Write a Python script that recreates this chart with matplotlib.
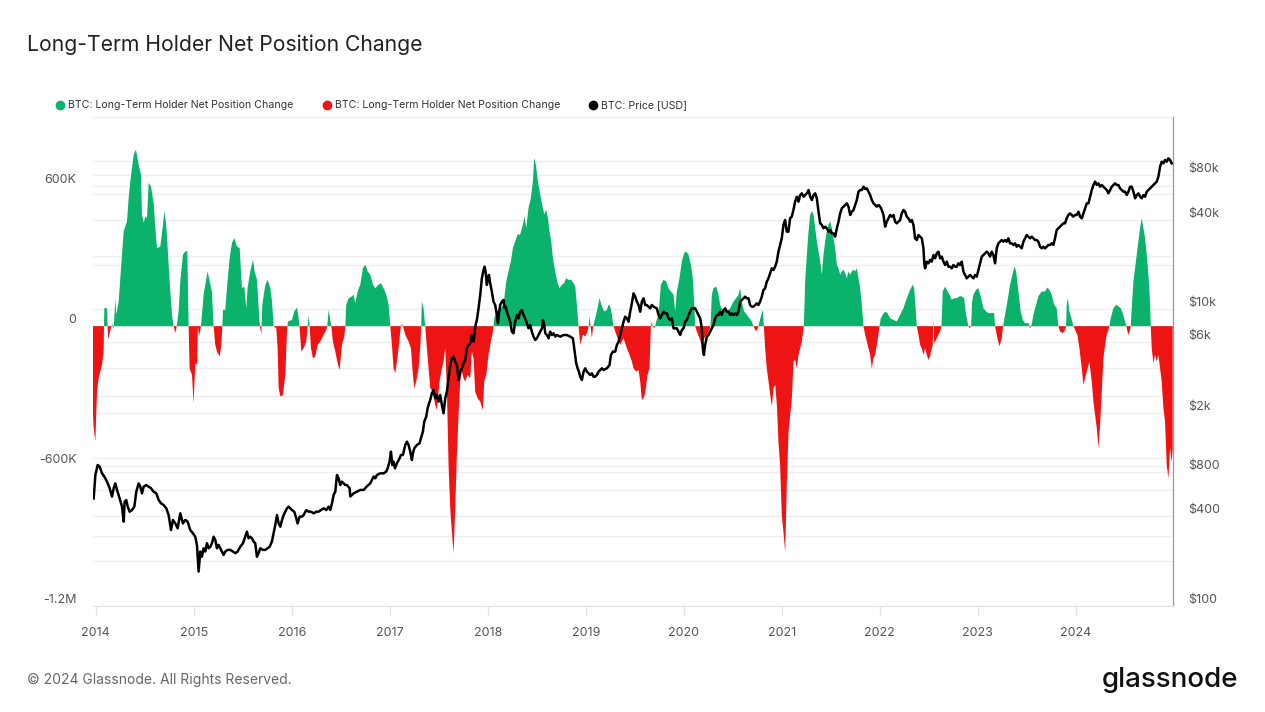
import matplotlib
matplotlib.use("Agg")
import matplotlib.pyplot as plt
from matplotlib.lines import Line2D
from matplotlib.ticker import FixedLocator, NullFormatter, NullLocator
import numpy as np

plt.rcParams['font.family'] = ['Inter', 'DejaVu Sans']

# LTH net position change (decimal year, thousands of BTC)
lth_year = [
    2013.971, 2013.978, 2013.995, 2014.012, 2014.029, 2014.046, 2014.066, 2014.080, 2014.083, 2014.087,
    2014.114, 2014.121, 2014.124, 2014.134, 2014.148, 2014.168, 2014.182, 2014.199, 2014.209, 2014.233,
    2014.250, 2014.267, 2014.284, 2014.318, 2014.335, 2014.352, 2014.369, 2014.386, 2014.410, 2014.437,
    2014.461, 2014.471, 2014.488, 2014.505, 2014.522, 2014.539, 2014.563, 2014.590, 2014.607, 2014.624,
    2014.658, 2014.685, 2014.699, 2014.719, 2014.733, 2014.753, 2014.777, 2014.794, 2014.811, 2014.828,
    2014.845, 2014.862, 2014.889, 2014.913, 2014.934, 2014.947, 2014.957, 2014.981, 2014.998, 2015.015,
    2015.032, 2015.042, 2015.053, 2015.070, 2015.083, 2015.100, 2015.117, 2015.141, 2015.162, 2015.185,
    2015.202, 2015.219, 2015.236, 2015.264, 2015.281, 2015.291, 2015.298, 2015.321, 2015.338, 2015.366,
    2015.389, 2015.413, 2015.440, 2015.468, 2015.491, 2015.515, 2015.536, 2015.549, 2015.576, 2015.604,
    2015.621, 2015.645, 2015.662, 2015.675, 2015.689, 2015.699, 2015.730, 2015.753, 2015.781, 2015.798,
    2015.815, 2015.842, 2015.855, 2015.866, 2015.883, 2015.910, 2015.934, 2015.951, 2015.961, 2016.002,
    2016.025, 2016.053, 2016.070, 2016.080, 2016.097, 2016.121, 2016.148, 2016.162, 2016.172, 2016.182,
    2016.196, 2016.216, 2016.240, 2016.264, 2016.291, 2016.325, 2016.352, 2016.362, 2016.376, 2016.393,
    2016.403, 2016.420, 2016.444, 2016.468, 2016.488, 2016.512, 2016.536, 2016.546, 2016.556, 2016.580,
    2016.614, 2016.631, 2016.648, 2016.672, 2016.699, 2016.726, 2016.750, 2016.774, 2016.801, 2016.828,
    2016.852, 2016.886, 2016.910, 2016.937, 2016.964, 2016.988, 2017.005, 2017.022, 2017.039, 2017.056,
    2017.073, 2017.090, 2017.107, 2017.114, 2017.124, 2017.134, 2017.158, 2017.192, 2017.216, 2017.236,
    2017.250, 2017.270, 2017.294, 2017.311, 2017.321, 2017.328, 2017.345, 2017.362, 2017.379, 2017.396,
    2017.413, 2017.440, 2017.464, 2017.481, 2017.508, 2017.532, 2017.549, 2017.566, 2017.583, 2017.600,
    2017.617, 2017.634, 2017.651, 2017.668, 2017.685, 2017.702, 2017.719, 2017.736, 2017.753, 2017.770,
    2017.794, 2017.821, 2017.838, 2017.855, 2017.872, 2017.896, 2017.923, 2017.950, 2017.964, 2017.985,
    2018.008, 2018.032, 2018.053, 2018.059, 2018.066, 2018.093, 2018.127, 2018.161, 2018.189, 2018.212,
    2018.236, 2018.257, 2018.280, 2018.304, 2018.331, 2018.359, 2018.376, 2018.393, 2018.416, 2018.440,
    2018.461, 2018.474, 2018.491, 2018.512, 2018.536, 2018.563, 2018.577, 2018.597, 2018.614, 2018.631,
    2018.648, 2018.665, 2018.689, 2018.712, 2018.733, 2018.757, 2018.781, 2018.801, 2018.825, 2018.849,
    2018.876, 2018.893, 2018.910, 2018.927, 2018.944, 2018.971, 2018.995, 2019.019, 2019.029, 2019.039,
    2019.049, 2019.063, 2019.076, 2019.097, 2019.121, 2019.141, 2019.165, 2019.189, 2019.216, 2019.233,
    2019.250, 2019.267, 2019.284, 2019.301, 2019.325, 2019.352, 2019.386, 2019.420, 2019.447, 2019.471,
    2019.488, 2019.515, 2019.539, 2019.556, 2019.573, 2019.590, 2019.607, 2019.631, 2019.651, 2019.665,
    2019.675, 2019.685, 2019.699, 2019.709, 2019.719, 2019.743, 2019.767, 2019.794, 2019.821, 2019.845,
    2019.869, 2019.896, 2019.913, 2019.930, 2019.957, 2019.981, 2020.005, 2020.025, 2020.049, 2020.073,
    2020.093, 2020.107, 2020.117, 2020.134, 2020.161, 2020.185, 2020.209, 2020.236, 2020.263, 2020.274,
    2020.287, 2020.304, 2020.331, 2020.355, 2020.372, 2020.400, 2020.423, 2020.447, 2020.474, 2020.508,
    2020.536, 2020.559, 2020.576, 2020.593, 2020.617, 2020.644, 2020.672, 2020.695, 2020.712, 2020.729,
    2020.746, 2020.763, 2020.774, 2020.787, 2020.808, 2020.818, 2020.831, 2020.848, 2020.866, 2020.883,
    2020.900, 2020.917, 2020.934, 2020.951, 2020.967, 2020.984, 2021.001, 2021.018, 2021.036, 2021.053,
    2021.070, 2021.087, 2021.104, 2021.121, 2021.138, 2021.155, 2021.172, 2021.189, 2021.206, 2021.223,
    2021.226, 2021.240, 2021.257, 2021.274, 2021.291, 2021.308, 2021.325, 2021.342, 2021.359, 2021.376,
    2021.393, 2021.410, 2021.427, 2021.444, 2021.461, 2021.478, 2021.495, 2021.512, 2021.529, 2021.546,
    2021.563, 2021.580, 2021.597, 2021.614, 2021.631, 2021.648, 2021.665, 2021.682, 2021.699, 2021.716,
    2021.733, 2021.750, 2021.767, 2021.784, 2021.801, 2021.818, 2021.835, 2021.852, 2021.869, 2021.886,
    2021.903, 2021.920, 2021.937, 2021.954, 2021.971, 2021.988, 2021.998, 2022.012, 2022.032, 2022.056,
    2022.080, 2022.107, 2022.141, 2022.175, 2022.209, 2022.243, 2022.277, 2022.311, 2022.338, 2022.352,
    2022.372, 2022.379, 2022.396, 2022.413, 2022.430, 2022.447, 2022.464, 2022.481, 2022.498, 2022.515,
    2022.532, 2022.542, 2022.549, 2022.556, 2022.576, 2022.600, 2022.617, 2022.631, 2022.644, 2022.668,
    2022.685, 2022.712, 2022.736, 2022.760, 2022.787, 2022.814, 2022.838, 2022.862, 2022.882, 2022.903,
    2022.916, 2022.933, 2022.944, 2022.957, 2022.984, 2023.008, 2023.032, 2023.059, 2023.087, 2023.110,
    2023.144, 2023.168, 2023.178, 2023.195, 2023.222, 2023.246, 2023.260, 2023.280, 2023.304, 2023.331,
    2023.355, 2023.376, 2023.393, 2023.416, 2023.440, 2023.461, 2023.484, 2023.518, 2023.535, 2023.552,
    2023.569, 2023.597, 2023.620, 2023.654, 2023.688, 2023.712, 2023.733, 2023.756, 2023.780, 2023.807,
    2023.824, 2023.841, 2023.869, 2023.893, 2023.903, 2023.909, 2023.920, 2023.937, 2023.961, 2023.978,
    2023.995, 2024.018, 2024.039, 2024.063, 2024.080, 2024.097, 2024.114, 2024.141, 2024.165, 2024.182,
    2024.199, 2024.216, 2024.233, 2024.250, 2024.267, 2024.284, 2024.301, 2024.318, 2024.335, 2024.345,
    2024.358, 2024.386, 2024.413, 2024.437, 2024.460, 2024.481, 2024.505, 2024.518, 2024.529, 2024.542,
    2024.556, 2024.563, 2024.573, 2024.590, 2024.607, 2024.624, 2024.641, 2024.658, 2024.675, 2024.692,
    2024.709, 2024.726, 2024.743, 2024.760, 2024.767, 2024.777, 2024.794, 2024.811, 2024.828, 2024.845,
    2024.862, 2024.879, 2024.896, 2024.913, 2024.930, 2024.947, 2024.964, 2024.981, 2024.991,
]
lth_k = [
    -381, -438, -493, -281, -223, -195, -159, -95, 0, 77,
    77, 0, -54, -44, -16, 9, -11, 116, 49, 106,
    206, 307, 407, 450, 550, 622, 679, 736, 758, 693,
    650, 479, 444, 471, 464, 615, 600, 529, 421, 335,
    342, 436, 493, 436, 335, 192, 49, 0, -30, 6,
    63, 192, 307, 321, 321, 0, -181, -209, -331, -159,
    -166, 0, -44, -9, 49, 135, 178, 235, 192, 149,
    0, -80, -109, -130, -80, 0, 70, 70, 163, 292,
    357, 378, 342, 335, 163, 170, 77, 163, 235, 285,
    235, 199, 77, 0, -37, 92, 178, 199, 163, 106,
    0, -9, -95, -266, -302, -295, -209, -23, 20, 27,
    63, 80, 34, -9, -109, -95, -66, 0, 46, 0,
    -95, -138, -130, -80, -66, -37, -16, 0, 70, 27,
    0, -66, -109, -159, -188, -80, -44, 0, 92, 120,
    128, 135, 99, 149, 178, 249, 264, 235, 221, 178,
    163, 178, 185, 163, 135, 92, 0, -80, -181, -202,
    -152, -95, -23, 0, 9, 0, -37, -66, -95, -209,
    -266, -238, -181, -95, 0, 106, 77, 0, -95, -181,
    -266, -281, -338, -360, -238, -181, -152, -95, -266, -596,
    -782, -883, -976, -782, -553, -381, -238, -195, -224, -238,
    -209, -224, -109, -138, -281, -309, -324, -360, -238, -209,
    -123, -66, -23, 0, 34, 63, 77, 92, 192, 235,
    278, 335, 364, 393, 393, 436, 471, 421, 507, 550,
    622, 722, 693, 622, 564, 507, 479, 500, 464, 407,
    364, 292, 235, 185, 163, 178, 185, 206, 199, 199,
    185, 170, 92, 0, -80, -37, -44, -23, 0, 42,
    0, -52, 0, 34, 77, 120, 85, 63, 70, 92,
    85, 49, 0, -23, -52, -80, -52, -95, -123, -152,
    -181, -195, -188, -238, -317, -309, -288, -209, -181, 0,
    20, 0, -9, 0, 20, 49, 178, 199, 192, 163,
    149, 135, 63, 149, 206, 278, 314, 321, 307, 264,
    206, 106, 0, -23, -52, -80, -52, -37, -16, 0,
    135, 163, 170, 135, 92, 63, 77, 63, 77, 106,
    120, 135, 163, 106, 63, 49, 34, 20, 0, -16,
    -20, 0, 20, 42, 70, 0, -95, -181, -238, -295,
    -345, -266, -252, -338, -496, -596, -811, -883, -969, -668,
    -453, -381, -309, -152, -145, -181, -123, -95, -66, -9,
    0, 192, 307, 407, 479, 493, 479, 421, 364, 321,
    278, 221, 307, 364, 407, 436, 450, 421, 378, 335,
    264, 249, 221, 235, 242, 228, 206, 235, 221, 235,
    242, 235, 249, 206, 163, 92, 0, -37, -66, -95,
    -123, -181, -138, -123, -80, -37, 0, 34, 49, 63,
    56, 34, 27, 20, 49, 77, 120, 156, 178, 163,
    49, 0, -37, -80, -95, -123, -95, -123, -145, -130,
    -95, -80, 32, -73, -59, -37, -23, 0, 149, 170,
    156, 135, 113, 120, 120, 128, 128, 120, 49, 6,
    -9, 0, 106, 135, 156, 163, 128, 77, 63, 56,
    56, 57, 0, -37, -87, -52, 0, 49, 106, 178,
    221, 256, 235, 149, 63, 27, 13, 13, -9, 6,
    49, 92, 128, 149, 149, 166, 156, 135, 92, 77,
    0, -23, -30, -16, 0, 92, 120, 63, 27, 0,
    -16, -37, -95, -181, -252, -224, -195, -152, -238, -324,
    -381, -438, -524, -424, -281, -138, -80, -37, -16, 0,
    34, 77, 92, 85, 77, 56, 20, 0, -23, -37,
    -16, 0, 77, 192, 249, 307, 364, 421, 464, 421,
    378, 307, 221, 106, 0, -95, -159, -123, -152, -123,
    -181, -238, -352, -410, -596, -653, -524, -582, -524,
]

# BTC price (decimal year, USD)
price_year = [
    2013.978, 2013.995, 2014.019, 2014.039, 2014.063, 2014.087, 2014.114, 2014.141, 2014.165, 2014.182,
    2014.199, 2014.216, 2014.243, 2014.267, 2014.284, 2014.294, 2014.311, 2014.325, 2014.345, 2014.369,
    2014.393, 2014.413, 2014.437, 2014.454, 2014.471, 2014.488, 2014.515, 2014.539, 2014.563, 2014.590,
    2014.617, 2014.641, 2014.665, 2014.692, 2014.719, 2014.743, 2014.767, 2014.787, 2014.811, 2014.835,
    2014.862, 2014.889, 2014.913, 2014.937, 2014.964, 2014.991, 2015.015, 2015.032, 2015.049, 2015.066,
    2015.083, 2015.100, 2015.117, 2015.134, 2015.151, 2015.168, 2015.185, 2015.202, 2015.219, 2015.236,
    2015.253, 2015.270, 2015.287, 2015.304, 2015.321, 2015.345, 2015.372, 2015.400, 2015.423, 2015.447,
    2015.474, 2015.502, 2015.525, 2015.542, 2015.559, 2015.576, 2015.593, 2015.610, 2015.627, 2015.644,
    2015.661, 2015.678, 2015.706, 2015.729, 2015.753, 2015.774, 2015.797, 2015.814, 2015.831, 2015.849,
    2015.866, 2015.883, 2015.900, 2015.917, 2015.934, 2015.951, 2015.968, 2015.985, 2016.002, 2016.025,
    2016.046, 2016.059, 2016.080, 2016.104, 2016.121, 2016.148, 2016.172, 2016.196, 2016.223, 2016.250,
    2016.274, 2016.297, 2016.325, 2016.352, 2016.376, 2016.393, 2016.410, 2016.427, 2016.444, 2016.461,
    2016.478, 2016.495, 2016.512, 2016.529, 2016.546, 2016.563, 2016.590, 2016.597, 2016.614, 2016.631,
    2016.665, 2016.699, 2016.733, 2016.767, 2016.801, 2016.835, 2016.852, 2016.869, 2016.903, 2016.937,
    2016.964, 2016.978, 2016.998, 2017.012, 2017.026, 2017.039, 2017.053, 2017.073, 2017.100, 2017.114,
    2017.134, 2017.158, 2017.175, 2017.192, 2017.209, 2017.226, 2017.236, 2017.250, 2017.277, 2017.304,
    2017.318, 2017.338, 2017.352, 2017.372, 2017.386, 2017.396, 2017.413, 2017.430, 2017.447, 2017.464,
    2017.481, 2017.498, 2017.515, 2017.532, 2017.549, 2017.566, 2017.583, 2017.600, 2017.617, 2017.634,
    2017.651, 2017.668, 2017.685, 2017.702, 2017.719, 2017.736, 2017.753, 2017.770, 2017.787, 2017.804,
    2017.821, 2017.838, 2017.855, 2017.872, 2017.889, 2017.906, 2017.923, 2017.940, 2017.957, 2017.968,
    2017.978, 2017.991, 2018.002, 2018.012, 2018.025, 2018.042, 2018.059, 2018.076, 2018.093, 2018.104,
    2018.114, 2018.127, 2018.144, 2018.161, 2018.172, 2018.185, 2018.195, 2018.212, 2018.229, 2018.246,
    2018.263, 2018.280, 2018.297, 2018.315, 2018.331, 2018.348, 2018.365, 2018.382, 2018.399, 2018.416,
    2018.433, 2018.450, 2018.467, 2018.485, 2018.501, 2018.519, 2018.536, 2018.553, 2018.563, 2018.577,
    2018.587, 2018.604, 2018.621, 2018.638, 2018.655, 2018.672, 2018.689, 2018.706, 2018.740, 2018.774,
    2018.808, 2018.842, 2018.869, 2018.883, 2018.903, 2018.917, 2018.930, 2018.944, 2018.961, 2018.978,
    2018.995, 2019.012, 2019.029, 2019.046, 2019.063, 2019.080, 2019.097, 2019.114, 2019.131, 2019.148,
    2019.165, 2019.182, 2019.216, 2019.243, 2019.257, 2019.277, 2019.301, 2019.318, 2019.335, 2019.352,
    2019.369, 2019.386, 2019.403, 2019.420, 2019.437, 2019.454, 2019.471, 2019.488, 2019.505, 2019.522,
    2019.539, 2019.556, 2019.573, 2019.590, 2019.607, 2019.624, 2019.641, 2019.658, 2019.675, 2019.692,
    2019.726, 2019.743, 2019.760, 2019.777, 2019.794, 2019.811, 2019.828, 2019.845, 2019.862, 2019.879,
    2019.896, 2019.913, 2019.930, 2019.947, 2019.964, 2019.981, 2019.998, 2020.015, 2020.032, 2020.049,
    2020.066, 2020.083, 2020.100, 2020.117, 2020.134, 2020.151, 2020.168, 2020.185, 2020.195, 2020.206,
    2020.219, 2020.236, 2020.253, 2020.270, 2020.287, 2020.304, 2020.321, 2020.338, 2020.355, 2020.372,
    2020.389, 2020.406, 2020.423, 2020.440, 2020.457, 2020.474, 2020.491, 2020.508, 2020.525, 2020.542,
    2020.559, 2020.576, 2020.593, 2020.610, 2020.627, 2020.644, 2020.661, 2020.678, 2020.695, 2020.712,
    2020.729, 2020.746, 2020.763, 2020.780, 2020.797, 2020.814, 2020.831, 2020.848, 2020.865, 2020.882,
    2020.899, 2020.916, 2020.933, 2020.950, 2020.967, 2020.984, 2021.001, 2021.018, 2021.035, 2021.052,
    2021.069, 2021.086, 2021.103, 2021.120, 2021.137, 2021.155, 2021.172, 2021.189, 2021.206, 2021.223,
    2021.240, 2021.257, 2021.274, 2021.291, 2021.308, 2021.325, 2021.342, 2021.359, 2021.376, 2021.393,
    2021.410, 2021.427, 2021.444, 2021.461, 2021.478, 2021.495, 2021.512, 2021.529, 2021.546, 2021.563,
    2021.580, 2021.597, 2021.614, 2021.631, 2021.648, 2021.665, 2021.682, 2021.699, 2021.716, 2021.733,
    2021.750, 2021.767, 2021.784, 2021.801, 2021.818, 2021.835, 2021.852, 2021.869, 2021.886, 2021.903,
    2021.920, 2021.937, 2021.954, 2021.971, 2021.988, 2022.005, 2022.022, 2022.039, 2022.056, 2022.073,
    2022.090, 2022.107, 2022.124, 2022.141, 2022.158, 2022.175, 2022.192, 2022.209, 2022.226, 2022.243,
    2022.260, 2022.277, 2022.294, 2022.311, 2022.328, 2022.345, 2022.362, 2022.379, 2022.396, 2022.413,
    2022.430, 2022.447, 2022.457, 2022.464, 2022.481, 2022.498, 2022.515, 2022.532, 2022.549, 2022.566,
    2022.583, 2022.600, 2022.617, 2022.634, 2022.651, 2022.668, 2022.685, 2022.702, 2022.719, 2022.736,
    2022.753, 2022.770, 2022.787, 2022.804, 2022.821, 2022.838, 2022.855, 2022.872, 2022.889, 2022.906,
    2022.923, 2022.940, 2022.957, 2022.974, 2022.991, 2023.008, 2023.025, 2023.042, 2023.059, 2023.076,
    2023.093, 2023.110, 2023.127, 2023.144, 2023.161, 2023.178, 2023.195, 2023.212, 2023.229, 2023.246,
    2023.263, 2023.280, 2023.297, 2023.314, 2023.331, 2023.348, 2023.365, 2023.382, 2023.399, 2023.416,
    2023.433, 2023.450, 2023.467, 2023.484, 2023.501, 2023.518, 2023.535, 2023.552, 2023.569, 2023.586,
    2023.603, 2023.620, 2023.637, 2023.654, 2023.671, 2023.688, 2023.705, 2023.722, 2023.739, 2023.756,
    2023.773, 2023.790, 2023.807, 2023.824, 2023.841, 2023.858, 2023.875, 2023.892, 2023.909, 2023.926,
    2023.943, 2023.960, 2023.977, 2023.994, 2024.011, 2024.029, 2024.046, 2024.063, 2024.080, 2024.097,
    2024.114, 2024.131, 2024.148, 2024.165, 2024.182, 2024.199, 2024.216, 2024.233, 2024.250, 2024.267,
    2024.284, 2024.301, 2024.318, 2024.335, 2024.352, 2024.369, 2024.386, 2024.403, 2024.420, 2024.437,
    2024.454, 2024.471, 2024.488, 2024.505, 2024.522, 2024.539, 2024.556, 2024.573, 2024.590, 2024.607,
    2024.624, 2024.641, 2024.658, 2024.675, 2024.692, 2024.709, 2024.726, 2024.743, 2024.760, 2024.777,
    2024.794, 2024.811, 2024.828, 2024.845, 2024.862, 2024.879, 2024.896, 2024.913, 2024.930, 2024.947,
    2024.964, 2024.981,
]
price_usd = [
    530, 762, 890, 867, 782, 743, 687, 620, 545, 620,
    669, 604, 530, 466, 369, 504, 517, 466, 431, 442,
    466, 588, 669, 636, 573, 636, 652, 636, 620, 588,
    573, 517, 491, 478, 454, 409, 324, 379, 359, 333,
    420, 359, 379, 369, 324, 308, 292, 257, 170, 232,
    214, 244, 232, 264, 244, 250, 264, 292, 278, 244,
    257, 244, 232, 220, 232, 238, 238, 232, 226, 232,
    250, 264, 292, 316, 285, 292, 285, 271, 264, 214,
    226, 244, 238, 238, 244, 250, 271, 308, 350, 409,
    359, 341, 379, 409, 431, 454, 466, 454, 442, 431,
    389, 359, 399, 399, 409, 442, 431, 431, 420, 431,
    431, 442, 454, 442, 466, 442, 491, 559, 588, 762,
    724, 652, 687, 669, 652, 652, 620, 545, 559, 573,
    588, 604, 604, 640, 670, 743, 724, 762, 782, 782,
    803, 845, 938, 1095, 890, 938, 845, 914, 987, 1040,
    1040, 1215, 1279, 1215, 1095, 962, 1067, 1153, 1215, 1247,
    1347, 1494, 1746, 1887, 2147, 2262, 2445, 2712, 2855, 2508,
    2642, 2382, 2642, 2262, 1987, 2508, 2782, 3422, 4210, 4670,
    4790, 4435, 4210, 3335, 3796, 3998, 4320, 4550, 5455, 5745,
    5895, 6710, 6050, 7640, 8470, 10150, 12490, 16180, 18420, 19400,
    17950, 14590, 16180, 17040, 14970, 13150, 11260, 10690, 9150, 8040,
    9390, 10690, 11260, 11560, 10150, 10420, 9640, 8920, 8250, 7070,
    6890, 8250, 9150, 8690, 9640, 9890, 9150, 8690, 8040, 7440,
    7840, 7070, 6540, 6210, 6370, 6710, 7070, 7440, 8470, 7840,
    6890, 6710, 6370, 7070, 6710, 6890, 6540, 6710, 6540, 6710,
    6710, 6540, 6370, 5455, 4320, 3998, 3796, 3510, 3335, 3796,
    3998, 3796, 3700, 3605, 3700, 3510, 3510, 3605, 3796, 3895,
    3998, 3895, 3998, 4210, 4915, 5180, 5180, 5745, 6050, 6710,
    7440, 8250, 8920, 8690, 8250, 9640, 10970, 12820, 12170, 11260,
    10690, 9640, 11260, 11860, 10690, 10690, 10420, 10150, 10690, 10420,
    10150, 9150, 8690, 9150, 9640, 9390, 9390, 8690, 8470, 8690,
    7440, 7440, 7440, 7070, 6710, 7250, 7440, 8250, 8470, 9150,
    9640, 10150, 10150, 10150, 9640, 9150, 8690, 7440, 5455, 4915,
    5745, 6540, 6710, 7070, 7440, 7840, 8690, 9150, 9150, 9640,
    9150, 9890, 10150, 9640, 9640, 9150, 9390, 9150, 9390, 9150,
    9640, 11260, 11560, 11860, 12170, 11860, 11860, 10690, 10420, 10420,
    10690, 10970, 10690, 11260, 12170, 13490, 13850, 15370, 16180, 17490,
    18900, 18420, 19400, 20970, 24490, 27160, 30120, 37060, 40060, 33410,
    33410, 41100, 42180, 46780, 53250, 57560, 53250, 59050, 60600, 57560,
    59050, 60600, 63800, 57560, 54650, 59050, 60600, 56100, 45590, 38040,
    37060, 35190, 36110, 35190, 33410, 34290, 32550, 32550, 30900, 35190,
    39030, 44430, 48010, 49270, 50560, 51890, 49270, 43290, 45590, 46780,
    50560, 54650, 62200, 63800, 63800, 67200, 64850, 65500, 62200, 59050,
    54650, 51890, 50560, 49270, 50560, 49270, 46780, 43290, 36110, 39030,
    41100, 43290, 42180, 43290, 39030, 38040, 39030, 40060, 44430, 46780,
    45590, 42180, 41100, 39030, 40060, 37060, 30120, 29350, 31720, 30910,
    30120, 25790, 19910, 18900, 20970, 20440, 21520, 20970, 23250, 22080,
    23860, 24490, 22080, 22660, 20970, 19910, 21000, 19400, 19400, 18900,
    19910, 19400, 19400, 20440, 19910, 20970, 17950, 17040, 16180, 16600,
    17040, 16600, 16180, 17040, 16600, 18420, 20440, 22660, 23250, 23860,
    24490, 23860, 22660, 24490, 23250, 20440, 25790, 27870, 28600, 29350,
    28600, 29350, 28600, 30120, 27870, 27870, 27160, 27870, 26460, 27160,
    26460, 25790, 28600, 30120, 31720, 30910, 30120, 30910, 30120, 29350,
    29350, 28600, 26460, 25790, 26460, 25790, 26460, 27160, 27160, 27870,
    27160, 30120, 34290, 35190, 36110, 37060, 38040, 38040, 41100, 43290,
    44430, 43290, 42180, 43290, 43290, 45590, 42180, 41100, 44430, 48010,
    51890, 51890, 57560, 63800, 69000, 72650, 69000, 70800, 67200, 69000,
    67200, 65500, 63800, 60600, 63800, 67200, 69000, 70800, 69000, 69000,
    65500, 63800, 62200, 62200, 59050, 62200, 67200, 67200, 62200, 56100,
    59050, 60600, 57560, 56100, 59050, 57560, 62200, 63800, 65500, 67200,
    69000, 70800, 72650, 78500, 91700, 99100, 96600, 101800, 99100, 104400,
    101800, 96600,
]

years = list(range(2014, 2025))
left_ticks = [-1.2e6, -6e5, 0, 6e5]
left_labels = ['-1.2M', '-600K', '0', '600K']
left_minor = [-9e5, -3e5, 3e5, 9e5]
price_ticks = [100, 400, 800, 2000, 6000, 10000, 40000, 80000]
price_labels = ['$100', '$400', '$800', '$2k', '$6k', '$10k', '$40k', '$80k']
price_minor = [200, 600, 1000, 4000, 20000, 60000, 100000]

GREEN = '#0bb26c'
RED = '#ee1414'
GRID = '#eeeeee'
TXT = '#555555'

W, H = 1265, 712
fig = plt.figure(figsize=(W / 100, H / 100), dpi=100)
rect = [93 / W, (H - 605.7) / H, (1172.7 - 93) / W, (605.7 - 116.5) / H]

# bottom layer: price grid + right labels
ax0 = fig.add_axes(rect)
ax0.set_yscale('log')
ax0.set_ylim(100, 200000)
ax0.yaxis.tick_right()
ax0.yaxis.set_major_locator(FixedLocator(price_ticks))
ax0.yaxis.set_minor_locator(FixedLocator(price_minor))
ax0.yaxis.set_minor_formatter(NullFormatter())
ax0.set_yticklabels(price_labels)
ax0.grid(True, axis='y', which='both', color=GRID, lw=0.9)
ax0.tick_params(axis='y', which='both', length=0, pad=11, labelsize=9, labelcolor=TXT)
for lbl in ax0.get_yticklabels():
    lbl.set_va('bottom')

# middle layer: LTH net position change bars
ax1 = fig.add_axes(rect, sharex=ax0)
ax1.patch.set_alpha(0)
x = np.array(lth_year)
v = np.array(lth_k) * 1000
ax1.fill_between(x, v, 0, where=v >= 0, interpolate=True, color=GREEN, lw=0)
ax1.fill_between(x, v, 0, where=v <= 0, interpolate=True, color=RED, lw=0)
ax1.set_ylim(-1.2e6, 0.9e6)
ax1.yaxis.set_major_locator(FixedLocator(left_ticks))
ax1.yaxis.set_minor_locator(FixedLocator(left_minor))
ax1.yaxis.set_minor_formatter(NullFormatter())
ax1.set_yticklabels(left_labels)
ax1.set_axisbelow(True)
ax1.grid(True, axis='y', which='both', color=GRID, lw=0.9)
ax1.tick_params(axis='y', which='both', length=0, pad=12, labelsize=9, labelcolor=TXT)
for lbl in ax1.get_yticklabels():
    lbl.set_va('bottom')

# top layer: price line
ax2 = fig.add_axes(rect, sharex=ax0)
ax2.patch.set_alpha(0)
ax2.set_yscale('log')
ax2.set_ylim(100, 200000)
ax2.plot(price_year, price_usd, color='black', lw=1.8, solid_joinstyle='round')
ax2.yaxis.set_major_locator(NullLocator())
ax2.yaxis.set_minor_locator(NullLocator())
ax2.tick_params(axis='both', which='both', left=False, right=False, bottom=False,
                labelleft=False, labelbottom=False)

ax0.set_xlim(2013.971, 2024.991)
ax0.set_xticks(years)
ax0.set_xticklabels([str(y) for y in years])
ax0.tick_params(axis='x', length=7, color='#e3e3e3', width=0.9, pad=8, labelsize=9, labelcolor=TXT)
ax1.tick_params(axis='x', bottom=False, labelbottom=False)

for a in (ax0, ax1, ax2):
    for s in a.spines.values():
        s.set_visible(False)
ax0.spines['bottom'].set_visible(True)
ax0.spines['bottom'].set_color('#e3e3e3')
ax0.spines['right'].set_visible(True)
ax0.spines['right'].set_color('#9a9a9a')
ax0.spines['right'].set_linewidth(0.9)

# title, legend, footer
fig.text(27 / W, 1 - 45 / H, 'Long-Term Holder Net Position Change', fontsize=15.2, color='#222222', va='center')
legend_items = [(60, GREEN, 'BTC: Long-Term Holder Net Position Change'),
                (327, RED, 'BTC: Long-Term Holder Net Position Change'),
                (593, 'black', 'BTC: Price [USD]')]
for lx, c, t in legend_items:
    fig.add_artist(Line2D([lx / W], [1 - 105 / H], marker='o', ms=6, color=c, ls='none',
                          transform=fig.transFigure))
    fig.text((lx + 8) / W, 1 - 105 / H, t, fontsize=7.6, color='#333333', va='center')

fig.text(27 / W, 1 - 680 / H, '\u00a9 2024 Glassnode. All Rights Reserved.', fontsize=10, color='#666666', va='center')
fig.text(1238 / W, 1 - 680 / H, 'glassnode', fontsize=20, color='#111111', va='center', ha='right', fontweight='medium')

fig.savefig('out.png', dpi=100)
